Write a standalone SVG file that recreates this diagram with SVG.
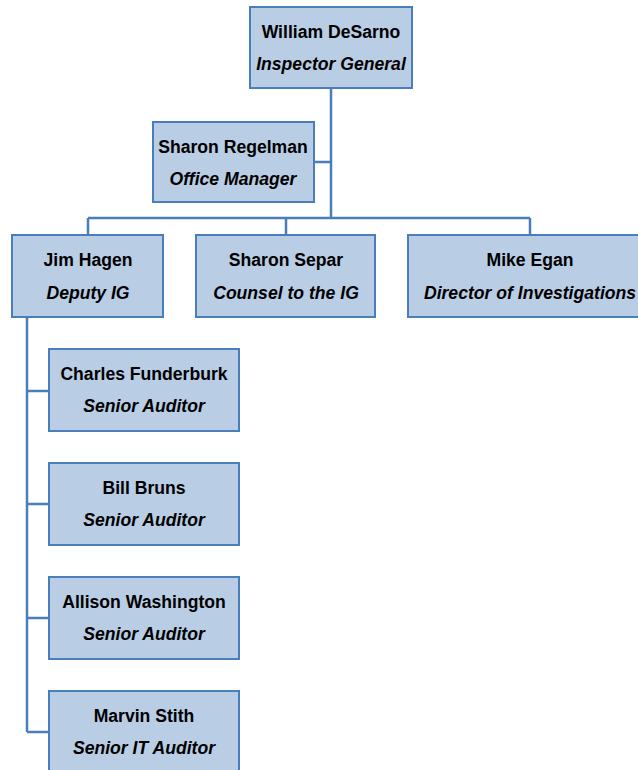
<svg xmlns="http://www.w3.org/2000/svg" width="638" height="770" viewBox="0 0 638 770">
<style>
.box{fill:#B9CDE5;stroke:#4A7EBB;stroke-width:2}
.ln{fill:none;stroke:#4A7EBB;stroke-width:2.5}
text{font-family:"Liberation Sans",Arial,sans-serif;font-size:17.6px;fill:#000;text-anchor:middle}
.n{font-weight:bold}
.t{font-weight:bold;font-style:italic}
</style>
<rect width="638" height="770" fill="#fff"/>
<g id="connectors">
<path class="ln" d="M331 88V218M314 162H331M88 218H530M88 218V235M286 218V235M530 218V235M27 317V732M27 391H49M27 504H49M27 618H49M27 732H49"/>
</g>
<g id="n-desarno"><rect class="box" x="250" y="7" width="162" height="81"/><text class="n" x="331" y="38">William DeSarno</text><text class="t" x="331" y="70">Inspector General</text></g>
<g id="n-regelman"><rect class="box" x="153" y="122" width="161" height="80"/><text class="n" x="233" y="153">Sharon Regelman</text><text class="t" x="233" y="185">Office Manager</text></g>
<g id="n-hagen"><rect class="box" x="12" y="235" width="151" height="82"/><text class="n" x="88" y="266">Jim Hagen</text><text class="t" x="88" y="299">Deputy IG</text></g>
<g id="n-separ"><rect class="box" x="196" y="235" width="179" height="82"/><text class="n" x="286" y="266">Sharon Separ</text><text class="t" x="286" y="299">Counsel to the IG</text></g>
<g id="n-egan"><rect class="box" x="408" y="235" width="244" height="82"/><text class="n" x="530" y="266">Mike Egan</text><text class="t" x="530" y="299">Director of Investigations</text></g>
<g id="n-funderburk"><rect class="box" x="49" y="349" width="190" height="82"/><text class="n" x="144" y="380">Charles Funderburk</text><text class="t" x="144" y="412">Senior Auditor</text></g>
<g id="n-bruns"><rect class="box" x="49" y="463" width="190" height="82"/><text class="n" x="144" y="494">Bill Bruns</text><text class="t" x="144" y="526">Senior Auditor</text></g>
<g id="n-washington"><rect class="box" x="49" y="577" width="190" height="82"/><text class="n" x="144" y="608">Allison Washington</text><text class="t" x="144" y="640">Senior Auditor</text></g>
<g id="n-stith"><rect class="box" x="49" y="691" width="190" height="90"/><text class="n" x="144" y="722">Marvin Stith</text><text class="t" x="144" y="754">Senior IT Auditor</text></g>
</svg>
